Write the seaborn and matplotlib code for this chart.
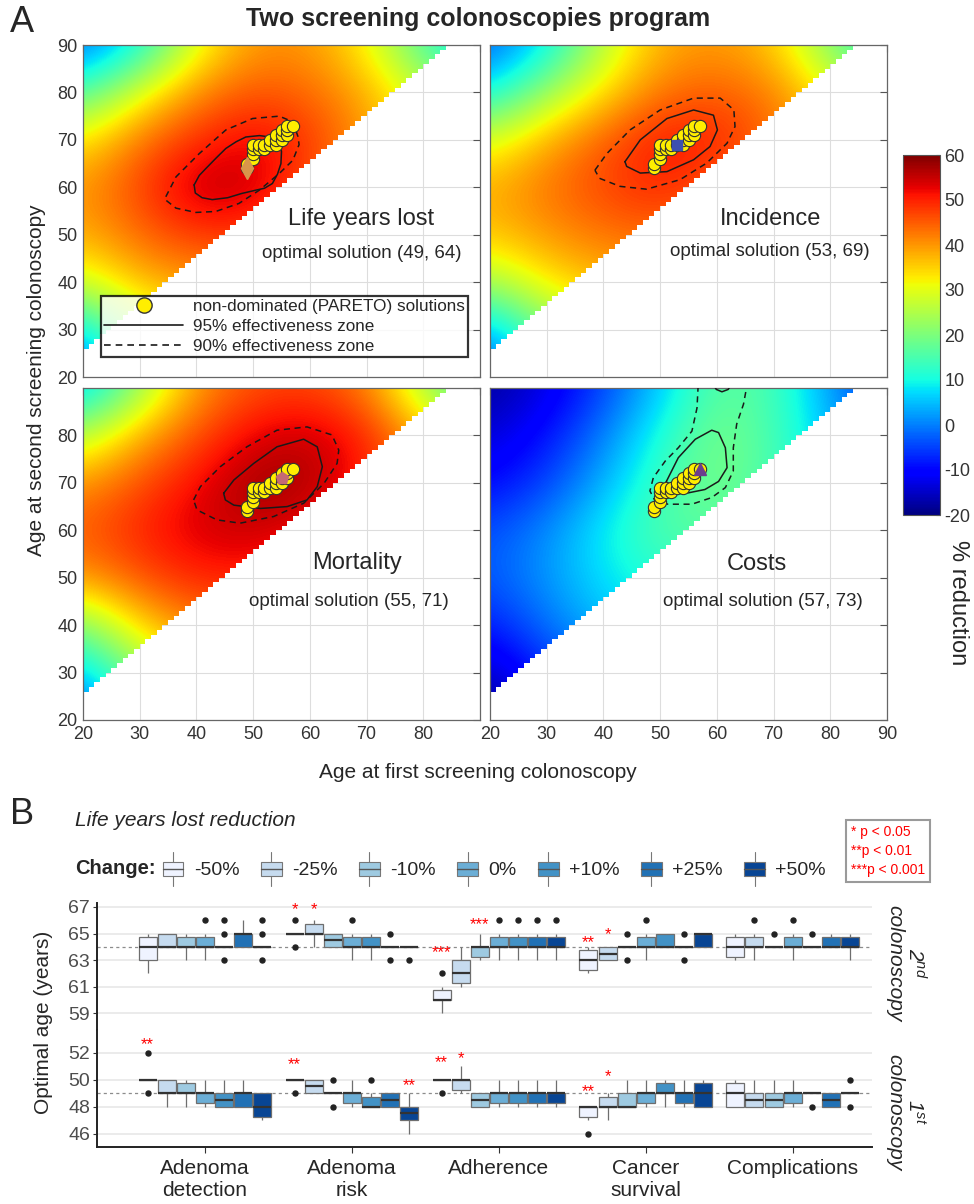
import numpy as np
import pandas as pd
import matplotlib
matplotlib.use("Agg")
import matplotlib.pyplot as plt
import seaborn as sns
from matplotlib.patches import Polygon, Rectangle
from matplotlib.lines import Line2D
from matplotlib.legend_handler import HandlerBase

W, H = 974, 1204

sns.set_style("white")
plt.rcParams["font.family"] = ["Liberation Sans", "DejaVu Sans"]
plt.rcParams["mathtext.fontset"] = "custom"
plt.rcParams["mathtext.rm"] = "Liberation Sans"
plt.rcParams["mathtext.it"] = "Liberation Sans:italic"
plt.rcParams["axes.unicode_minus"] = False

# ---------------- panel A data ----------------
# % reduction read at 10-year nodes; rows = age at 2nd colonoscopy 90 -> 20,
# columns = age at 1st colonoscopy 20 -> 90
grid_ages = [20, 30, 40, 50, 60, 70, 80, 90]

lyl_grid = [
    [-2, 9, 30, 40, 40, 32, 15, 5],
    [15, 30, 41, 46, 44, 38, 28, 15],
    [33, 43, 49, 53, 48, 40, 30, 20],
    [40, 47, 56, 55, 46, 38, 30, 20],
    [38, 44, 48, 48, 42, 35, 28, 20],
    [28, 37, 40, 40, 36, 30, 25, 20],
    [7, 25, 30, 30, 28, 25, 20, 15],
    [-5, 15, 20, 20, 20, 20, 15, 10],
]
inc_grid = [
    [-3, 8, 26, 38, 40, 36, 20, 8],
    [9, 23, 34, 43, 45, 42, 32, 20],
    [29, 38, 45, 51, 50, 44, 35, 25],
    [38, 43, 47, 50, 46, 40, 32, 25],
    [36, 40, 43, 44, 40, 35, 30, 25],
    [24, 33, 37, 38, 35, 30, 28, 25],
    [4, 20, 28, 30, 30, 28, 25, 20],
    [-6, 10, 20, 25, 25, 25, 20, 15],
]
mort_grid = [
    [4, 22, 40, 46, 47, 42, 24, 10],
    [25, 38, 46, 53, 55, 50, 38, 25],
    [40, 46, 52, 58, 57, 50, 40, 30],
    [45, 50, 54, 55, 52, 45, 38, 30],
    [40, 46, 50, 50, 46, 40, 35, 30],
    [20, 35, 42, 44, 42, 38, 32, 28],
    [5, 22, 32, 35, 35, 32, 30, 25],
    [-5, 10, 22, 28, 30, 30, 28, 25],
]
cost_grid = [
    [-18, -13, -5, 6, 17, 15, 2, -8],
    [-14, -9, 0, 11, 20, 15, 5, -5],
    [-10, -5, 4, 14, 20, 15, 6, -2],
    [-4, 1, 9, 16, 17, 12, 5, 0],
    [-3, 2, 8, 12, 12, 8, 4, 0],
    [-8, -1, 5, 8, 8, 6, 2, 0],
    [-15, -7, 0, 4, 4, 3, 0, -2],
    [-20, -12, -5, 0, 0, 0, -2, -4],
]

# effectiveness zones (outlines)
lyl_95_x = [39.6, 40.5, 41.7, 43.5, 45.2, 47.0, 48.7, 51.1, 53.0, 54.6, 55.0, 54.9, 54.3, 53.4, 52.0, 50.5, 48.0, 45.5, 42.8, 41.0, 39.8]
lyl_95_y = [60.5, 62.5, 64.0, 66.2, 68.2, 69.6, 70.6, 70.9, 70.6, 70.0, 67.5, 65.0, 62.8, 60.8, 59.8, 59.4, 58.7, 57.8, 57.4, 57.8, 58.8]
lyl_90_x = [34.6, 36.4, 40.5, 45.2, 49.9, 54.6, 57.0, 57.9, 58.1, 57.0, 54.6, 51.1, 47.5, 43.4, 39.9, 36.4, 34.6]
lyl_90_y = [58.0, 62.2, 67.1, 72.1, 74.5, 75.0, 73.8, 70.7, 69.0, 65.7, 62.9, 59.4, 56.6, 54.9, 54.7, 55.6, 57.3]

inc_95_x = [43.8, 46.5, 51.2, 55.9, 59.4, 60.1, 58.8, 55.9, 51.2, 46.5, 44.1]
inc_95_y = [65.4, 70.0, 74.5, 76.3, 75.2, 72.1, 68.6, 65.8, 63.3, 63.0, 64.4]
inc_90_x = [38.5, 40.6, 44.7, 50.0, 55.9, 60.6, 63.0, 63.2, 61.8, 58.2, 53.5, 47.6, 42.9, 39.3]
inc_90_y = [63.6, 67.1, 72.1, 76.3, 78.8, 78.8, 76.3, 72.8, 69.3, 65.1, 61.6, 59.6, 60.2, 61.9]

mort_95_x = [44.8, 46.6, 50.1, 54.2, 58.9, 61.3, 62.2, 61.3, 59.5, 56.0, 51.3, 46.6, 45.1]
mort_95_y = [67.8, 70.6, 74.1, 77.6, 79.2, 77.6, 73.4, 69.2, 66.4, 65.0, 64.6, 65.3, 66.4]
mort_90_x = [39.5, 40.7, 44.2, 48.9, 54.2, 59.5, 63.9, 65.1, 64.8, 62.5, 58.9, 53.6, 47.7, 43.6, 40.1]
mort_90_y = [66.4, 69.2, 73.4, 77.6, 81.1, 81.8, 80.1, 76.9, 74.1, 69.9, 65.7, 62.9, 61.5, 62.2, 64.3]

cost_95_x = [51.1, 53.2, 56.2, 59.1, 60.3, 61.5, 61.8, 60.3, 57.9, 55.0, 52.0, 51.1]
cost_95_y = [70.3, 75.3, 79.2, 81.1, 80.6, 77.4, 73.2, 70.3, 68.6, 67.9, 67.9, 68.9]
cost_95_top_x = [59.5, 59.9, 60.9, 62.0, 62.4]
cost_95_top_y = [90.5, 89.7, 89.2, 89.7, 90.5]
cost_90_x = [56.7, 56.5, 55.6, 53.2, 50.9, 48.8, 48.2, 49.1, 51.4, 55.6, 59.1, 61.5, 62.9, 62.9, 63.5, 64.7, 65.3]
cost_90_y = [90.5, 85.8, 80.9, 77.4, 74.6, 71.1, 68.3, 66.2, 65.5, 65.5, 66.9, 69.0, 72.5, 77.4, 82.4, 86.6, 90.5]

# non-dominated (PARETO) solutions
pareto_x = [49, 49, 50, 50, 50, 50, 51, 51, 52, 52, 53, 53, 54, 54, 54, 55, 55, 55, 56, 56, 56, 57]
pareto_y = [64, 65, 66, 67, 68, 69, 68, 69, 68, 69, 69, 70, 69, 70, 71, 70, 71, 72, 71, 72, 73, 73]

panel_names = ["Life years lost", "Incidence", "Mortality", "Costs"]
optimal_first = [49, 53, 55, 57]
optimal_second = [64, 69, 71, 73]
colorbar_ticks = [-20, -10, 0, 10, 20, 30, 40, 50, 60]

# ---------------- panel B data ----------------
changes = ["-50%", "-25%", "-10%", "0%", "+10%", "+25%", "+50%"]
categories = ["Adenoma detection", "Adenoma risk", "Adherence", "Cancer survival", "Complications"]
category_labels = ["Adenoma\ndetection", "Adenoma\nrisk", "Adherence", "Cancer\nsurvival", "Complications"]
blues = ["#eff3ff", "#c6dbef", "#9ecae1", "#6baed6", "#4292c6", "#2171b5", "#084594"]

# optimal age of the 2nd colonoscopy, one list per change level
second_adenoma_detection = [
    [62, 63, 63, 63, 64, 64, 64, 65, 65, 65],
    [64, 64, 64, 64, 64, 64, 65, 65, 65, 65],
    [63, 64, 64, 64, 64, 64, 64, 65, 65, 65],
    [63, 64, 64, 64, 64, 64, 64, 65, 65, 66],
    [63, 64, 64, 64, 64, 64, 64, 64, 65, 66],
    [64, 64, 64, 64, 65, 65, 65, 65, 65, 66],
    [63, 64, 64, 64, 64, 64, 64, 64, 65, 66],
]
second_adenoma_risk = [
    [64, 65, 65, 65, 65, 65, 65, 65, 65, 66],
    [64, 65, 65, 65, 65, 65, 65, 66, 66, 66],
    [64, 64, 64, 64, 64, 65, 65, 65, 65, 65],
    [63, 64, 64, 64, 64, 64, 64, 65, 65, 66],
    [63, 64, 64, 64, 64, 64, 64, 65, 65, 65],
    [63, 64, 64, 64, 64, 64, 64, 64, 64, 65],
    [63, 64, 64, 64, 64, 64, 64, 64, 64, 64],
]
second_adherence = [
    [59, 60, 60, 60, 60, 60, 60, 61, 61, 62],
    [61, 61, 61, 62, 62, 62, 63, 63, 63, 64],
    [63, 63, 63, 64, 64, 64, 64, 64, 65, 65],
    [63, 64, 64, 64, 64, 64, 64, 65, 65, 66],
    [63, 64, 64, 64, 64, 64, 64, 65, 65, 66],
    [63, 64, 64, 64, 64, 64, 64, 65, 65, 66],
    [63, 64, 64, 64, 64, 64, 64, 65, 65, 66],
]
second_cancer_survival = [
    [62, 62, 62, 63, 63, 63, 63, 64, 64, 64],
    [63, 63, 63, 63, 63, 64, 64, 64, 64, 64],
    [63, 64, 64, 64, 64, 64, 64, 64, 64, 65],
    [63, 64, 64, 64, 64, 64, 64, 65, 65, 66],
    [64, 64, 64, 64, 64, 64, 65, 65, 65, 65],
    [63, 64, 64, 64, 64, 64, 64, 64, 64, 65],
    [64, 64, 64, 64, 65, 65, 65, 65, 65, 65],
]
second_complications = [
    [63, 63, 63, 64, 64, 64, 64, 65, 65, 65],
    [63, 64, 64, 64, 64, 64, 64, 65, 65, 66],
    [64, 64, 64, 64, 64, 64, 64, 64, 64, 65],
    [63, 64, 64, 64, 64, 64, 64, 65, 65, 66],
    [64, 64, 64, 64, 64, 64, 64, 64, 64, 65],
    [64, 64, 64, 64, 64, 64, 64, 65, 65, 65],
    [63, 64, 64, 64, 64, 64, 64, 65, 65, 65],
]

# optimal age of the 1st colonoscopy
first_adenoma_detection = [
    [49, 50, 50, 50, 50, 50, 50, 50, 50, 52],
    [48, 49, 49, 49, 49, 49, 50, 50, 50, 50],
    [48, 49, 49, 49, 49, 49, 49, 50, 50, 50],
    [48, 48, 48, 49, 49, 49, 49, 49, 50, 50],
    [48, 48, 48, 48, 48, 49, 49, 49, 49, 50],
    [48, 48, 48, 48, 49, 49, 49, 49, 50, 50],
    [47, 47, 47, 48, 48, 48, 49, 49, 49, 49],
]
first_adenoma_risk = [
    [49, 50, 50, 50, 50, 50, 50, 50, 50, 50],
    [49, 49, 49, 49, 49, 50, 50, 50, 50, 50],
    [48, 49, 49, 49, 49, 49, 49, 49, 49, 50],
    [48, 48, 48, 49, 49, 49, 49, 49, 50, 50],
    [48, 48, 48, 48, 48, 48, 48, 49, 49, 50],
    [48, 48, 48, 48, 48, 49, 49, 49, 49, 49],
    [46, 47, 47, 47, 47, 48, 48, 48, 48, 49],
]
first_adherence = [
    [49, 50, 50, 50, 50, 50, 50, 50, 50, 50],
    [49, 49, 49, 50, 50, 50, 50, 50, 51, 51],
    [48, 48, 48, 48, 48, 49, 49, 49, 49, 49],
    [48, 48, 48, 49, 49, 49, 49, 49, 50, 50],
    [48, 48, 48, 49, 49, 49, 49, 49, 50, 50],
    [48, 48, 48, 49, 49, 49, 49, 49, 50, 50],
    [48, 48, 48, 49, 49, 49, 49, 49, 50, 50],
]
first_cancer_survival = [
    [46, 47, 47, 48, 48, 48, 48, 48, 48, 48],
    [47, 48, 48, 48, 48, 48, 48, 49, 49, 49],
    [48, 48, 48, 48, 48, 48, 49, 49, 49, 50],
    [48, 48, 48, 49, 49, 49, 49, 49, 50, 50],
    [48, 49, 49, 49, 49, 49, 49, 50, 50, 50],
    [48, 48, 48, 49, 49, 49, 49, 49, 50, 50],
    [48, 48, 48, 48, 49, 49, 49, 50, 50, 50],
]
first_complications = [
    [48, 48, 48, 48, 49, 49, 49, 50, 50, 50],
    [48, 48, 48, 48, 48, 49, 49, 49, 49, 50],
    [48, 48, 48, 48, 48, 49, 49, 49, 49, 50],
    [48, 48, 48, 49, 49, 49, 49, 49, 50, 50],
    [48, 49, 49, 49, 49, 49, 49, 49, 49, 49],
    [48, 48, 48, 48, 48, 49, 49, 49, 49, 49],
    [48, 49, 49, 49, 49, 49, 49, 49, 49, 50],
]

base_second, base_first = 64, 49

# significance marks
star_facet = ["2nd", "2nd", "2nd", "2nd", "2nd", "2nd", "1st", "1st", "1st", "1st", "1st", "1st", "1st"]
star_category = [1, 1, 2, 2, 3, 3, 0, 1, 1, 2, 2, 3, 3]
star_change = [0, 1, 0, 2, 0, 1, 0, 0, 6, 0, 1, 0, 1]
star_text = ["*", "*", "***", "***", "**", "*", "**", "**", "**", "**", "*", "**", "*"]
star_y = [67.1, 67.1, 63.9, 66.0, 64.6, 65.2, 52.9, 51.4, 49.9, 51.6, 51.9, 49.45, 50.55]


def px(x, y):
    return x / W, 1 - y / H


fig = plt.figure(figsize=(W / 100, H / 100), dpi=100)

# ================= panel A =================
axes_a = [
    fig.add_axes([83 / W, 1 - 377 / H, 397 / W, 332 / H]),
    fig.add_axes([490 / W, 1 - 377 / H, 397 / W, 332 / H]),
    fig.add_axes([83 / W, 1 - 720 / H, 397 / W, 332 / H]),
    fig.add_axes([490 / W, 1 - 720 / H, 397 / W, 332 / H]),
]
grids = [lyl_grid, inc_grid, mort_grid, cost_grid]
zones95 = [(lyl_95_x, lyl_95_y), (inc_95_x, inc_95_y), (mort_95_x, mort_95_y), (cost_95_x, cost_95_y)]
zones90 = [(lyl_90_x, lyl_90_y), (inc_90_x, inc_90_y), (mort_90_x, mort_90_y), None]
opt_markers = ["d", "s", "p", "^"]
opt_colors = ["#d9954a", "#3d4fb0", "#c46a74", "#6c3d8c"]
opt_sizes = [11, 7, 9, 9]
name_pos = [(69.1, 53.4), (69.4, 53.4), (68.4, 53.0), (67.0, 52.9)]
sub_pos = [(69.1, 46.1), (69.3, 46.4), (66.9, 44.9), (68.2, 45.0)]

edge = [(20, 90)]
for a in range(20, 84):
    edge += [(a, a + 6), (a + 1, a + 6)]
edge.append((84, 90))

step = grid_ages[1] - grid_ages[0]
ext = (grid_ages[0] - step / 2, grid_ages[-1] + step / 2, grid_ages[0] - step / 2, grid_ages[-1] + step / 2)

for i, ax in enumerate(axes_a):
    im = ax.imshow(np.array(grids[i], float), cmap="jet", vmin=-20, vmax=60, extent=ext,
                   origin="upper", interpolation="bicubic", interpolation_stage="data", zorder=1)
    im.set_clip_path(Polygon(edge, closed=True, transform=ax.transData))
    ax.set_aspect("auto")
    ax.set_xlim(20, 90)
    ax.set_ylim(20, 90)
    ax.set_xticks(range(20, 91, 10))
    ax.set_yticks(range(20, 91, 10))
    ax.grid(True, color="#dddddd", lw=0.8)
    ax.set_axisbelow(True)
    ax.tick_params(direction="in", top=True, right=True, length=5, width=0.8, color="#555555",
                   labelsize=13, labelcolor="#333333", pad=4)
    for sp in ax.spines.values():
        sp.set_color("#666666")
        sp.set_linewidth(0.9)

    zx, zy = zones95[i]
    ax.plot(list(zx) + [zx[0]], list(zy) + [zy[0]], color="#1a1a1a", lw=1.1, zorder=3)
    if zones90[i] is not None:
        zx, zy = zones90[i]
        ax.plot(list(zx) + [zx[0]], list(zy) + [zy[0]], color="#1a1a1a", lw=1.1, ls=(0, (4, 3)), zorder=3)
    else:
        ax.plot(cost_90_x, cost_90_y, color="#1a1a1a", lw=1.1, ls=(0, (4, 3)), zorder=3)
        ax.plot(cost_95_top_x, cost_95_top_y, color="#1a1a1a", lw=1.1, zorder=3)

    ax.scatter(pareto_x, pareto_y, s=78, color="#ffee00", edgecolor="#333333", linewidth=0.8, zorder=4)
    ax.plot([optimal_first[i]], [optimal_second[i]], marker=opt_markers[i], ms=opt_sizes[i],
            color=opt_colors[i], mec=opt_colors[i], ls="none", zorder=5)

    ax.text(*name_pos[i], panel_names[i], fontsize=17, ha="center", va="center", zorder=6)
    ax.text(*sub_pos[i], f"optimal solution ({optimal_first[i]}, {optimal_second[i]})",
            fontsize=13.5, ha="center", va="center", zorder=6)

# tick labels like the original layout
axes_a[0].tick_params(labelbottom=False)
axes_a[1].tick_params(labelbottom=False, labelleft=False)
axes_a[3].tick_params(labelleft=False)
axes_a[2].set_yticks(range(20, 91, 10), [str(v) for v in range(20, 81, 10)] + [""])
axes_a[2].set_xticks(range(20, 91, 10), [str(v) for v in range(20, 81, 10)] + [""])

handles = [
    Line2D([], [], marker="o", ls="none", mfc="#ffee00", mec="#333333", ms=11),
    Line2D([], [], color="#1a1a1a", lw=1.2),
    Line2D([], [], color="#1a1a1a", lw=1.2, ls=(0, (4, 3))),
]
leg = axes_a[0].legend(handles, ["non-dominated (PARETO) solutions", "95% effectiveness zone",
                                 "90% effectiveness zone"],
                       loc="lower left", bbox_to_anchor=(0.045, 0.06), fontsize=12.3, frameon=True,
                       fancybox=False, edgecolor="black", handlelength=4.6, labelspacing=0.28,
                       borderpad=0.2, handletextpad=0.6, borderaxespad=0)
leg.get_frame().set_linewidth(1.6)
leg.set_zorder(10)

cax = fig.add_axes([903 / W, 1 - 515 / H, 37 / W, 360 / H])
cb = fig.colorbar(im, cax=cax, ticks=colorbar_ticks)
cb.set_ticklabels([str(t) for t in colorbar_ticks])
cb.ax.tick_params(labelsize=13, labelcolor="#333333", direction="in", length=3, color="#555555", pad=3)
cb.outline.set_edgecolor("#555555")
cb.outline.set_linewidth(0.8)
fig.text(*px(958, 603), "% reduction", rotation=270, fontsize=17, ha="center", va="center")

fig.text(*px(10, 22), "A", fontsize=26, ha="left", va="center")
fig.text(*px(478, 19), "Two screening colonoscopies program", fontsize=18, fontweight="bold",
         ha="center", va="center")
fig.text(*px(37, 380), "Age at second screening colonoscopy", rotation=90, fontsize=15,
         ha="center", va="center")
fig.text(*px(478, 773), "Age at first screening colonoscopy", fontsize=15, ha="center", va="center")

# ================= panel B =================
second_groups = [second_adenoma_detection, second_adenoma_risk, second_adherence,
                 second_cancer_survival, second_complications]
first_groups = [first_adenoma_detection, first_adenoma_risk, first_adherence,
                first_cancer_survival, first_complications]
rows = []
for facet, groups in (("2nd", second_groups), ("1st", first_groups)):
    for cat, boxes in zip(categories, groups):
        for chg, vals in zip(changes, boxes):
            for v in vals:
                rows.append((facet, cat, chg, v))
df = pd.DataFrame(rows, columns=["facet", "category", "change", "age"])

ax_top = fig.add_axes([97 / W, 1 - 1030 / H, 775 / W, 127 / H])
ax_bot = fig.add_axes([97 / W, 1 - 1147 / H, 775 / W, 117 / H])
box_width = 0.91

for ax, facet, lims, ticks, base in ((ax_top, "2nd", (57.75, 67.3), [59, 61, 63, 65, 67], base_second),
                                     (ax_bot, "1st", (45.0, 53.7), [46, 48, 50, 52], base_first)):
    ax.axhline(base, color="#8c8c8c", lw=0.9, ls=(0, (2.5, 2.5)), zorder=1.5)
    sns.boxplot(data=df[df["facet"] == facet], x="category", y="age", hue="change",
                order=categories, hue_order=changes, palette=blues, saturation=1,
                width=box_width, gap=0.06, linewidth=0.9, linecolor="#6e6e6e",
                showcaps=False, whis=1.5, legend=False, ax=ax,
                medianprops={"color": "#333333", "linewidth": 1.6},
                flierprops={"marker": "o", "markerfacecolor": "#222222",
                            "markeredgecolor": "#222222", "markersize": 3.6})
    ax.set_ylim(*lims)
    ax.set_xlim(-0.735, 4.54)
    ax.set_yticks(ticks)
    ax.set_xlabel("")
    ax.set_ylabel("")
    ax.yaxis.grid(True, color="#e5e5e5", lw=1.1)
    ax.set_axisbelow(True)
    ax.tick_params(axis="y", labelsize=14, labelcolor="#4d4d4d", length=3, color="#333333",
                   left=True, pad=2)
    for side in ("top", "right"):
        ax.spines[side].set_visible(False)
    ax.spines["left"].set_color("#222222")
    ax.spines["left"].set_linewidth(1.4)

    for fc, cat, chg, txt, yv in zip(star_facet, star_category, star_change, star_text, star_y):
        if fc == facet:
            xpos = cat + (chg - 3) * box_width / len(changes)
            ax.text(xpos, yv - 0.3, txt, color="red", fontsize=12, ha="center", va="center",
                    clip_on=False, zorder=6)

ax_top.spines["bottom"].set_visible(False)
ax_top.tick_params(axis="x", bottom=False, labelbottom=False)
ax_bot.spines["bottom"].set_color("#222222")
ax_bot.spines["bottom"].set_linewidth(1.4)
ax_bot.set_xticks(range(len(categories)), category_labels)
ax_bot.tick_params(axis="x", labelsize=15, length=4, color="#333333", bottom=True, pad=5)

fig.text(*px(906, 963), "2$^{nd}$\ncolonoscopy", rotation=270, fontsize=15, style="italic",
         ha="center", va="center", linespacing=1.0)
fig.text(*px(906, 1112), "1$^{st}$\ncolonoscopy", rotation=270, fontsize=15, style="italic",
         ha="center", va="center", linespacing=1.0)
fig.text(*px(44, 1022), "Optimal age (years)", rotation=90, fontsize=15, ha="center", va="center")

fig.text(*px(10, 815), "B", fontsize=26, ha="left", va="center")
fig.text(*px(75, 820), "Life years lost reduction", fontsize=15, style="italic", ha="left", va="center")
fig.text(*px(75, 868), "Change:", fontsize=14.5, fontweight="bold", ha="left", va="center")


class BoxIcon(HandlerBase):
    def create_artists(self, legend, orig_handle, xdescent, ydescent, width, height, fontsize, trans):
        x0, y0 = -xdescent, -ydescent
        cx = x0 + width / 2
        whisk_hi = Line2D([cx, cx], [y0 + 0.8 * height, y0 + 1.2 * height], color="#777777", lw=0.8,
                          transform=trans)
        whisk_lo = Line2D([cx, cx], [y0 - 0.2 * height, y0 + 0.2 * height], color="#777777", lw=0.8,
                          transform=trans)
        box = Rectangle((x0, y0 + 0.2 * height), width, 0.6 * height, facecolor=orig_handle.get_facecolor(),
                        edgecolor="#777777", lw=0.8, transform=trans)
        med = Line2D([x0, x0 + width], [y0 + 0.5 * height] * 2, color="#555555", lw=1.0, transform=trans)
        return [whisk_hi, whisk_lo, box, med]


box_handles = [Rectangle((0, 0), 1, 1, facecolor=c) for c in blues]
fig.legend(box_handles, changes, loc="center left", bbox_to_anchor=px(163, 869), ncol=7, frameon=False,
           fontsize=14, handlelength=1.05, handleheight=1.5, columnspacing=1.1, handletextpad=0.55,
           borderaxespad=0, borderpad=0, handler_map={Rectangle: BoxIcon()})

fig.text(*px(851, 851), "* p < 0.05\n**p < 0.01\n***p < 0.001", color="red", fontsize=10,
         ha="left", va="center", linespacing=1.45,
         bbox=dict(boxstyle="square,pad=0.35", facecolor="white", edgecolor="#9a9a9a", linewidth=1.5))

fig.savefig("out.png", dpi=100)
